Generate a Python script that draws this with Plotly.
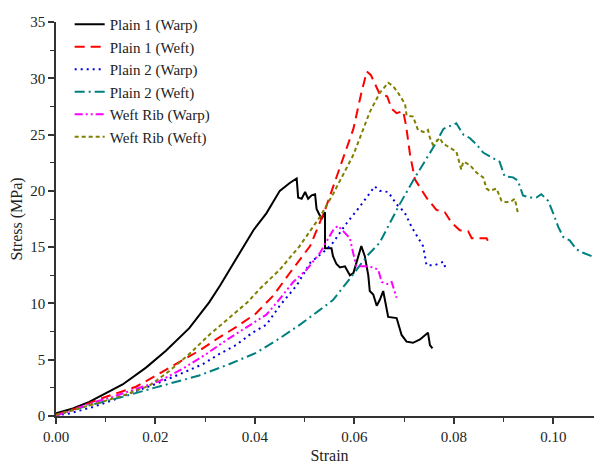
import plotly.graph_objects as go

# ---- data ----
plain1_warp_x = [0, 0.0034, 0.0067, 0.0101, 0.0134, 0.0181, 0.0221, 0.0268, 0.0308, 0.0330, 0.0370, 0.0397, 0.0423, 0.0450, 0.0470, 0.0484, 0.0487, 0.0494, 0.0501, 0.0507, 0.0514, 0.0521, 0.0524, 0.0534, 0.0541, 0.0541, 0.0554, 0.0557, 0.0564, 0.0571, 0.0581, 0.0591, 0.0598, 0.0608, 0.0614, 0.0621, 0.0628, 0.0631, 0.0638, 0.0645, 0.0651, 0.0658, 0.0663, 0.0668, 0.0685, 0.0691, 0.0695, 0.0705, 0.0718, 0.0732, 0.0748, 0.0752, 0.0757]
plain1_warp_y = [0.23, 0.67, 1.25, 2.0, 2.8, 4.3, 5.8, 7.8, 10.1, 11.6, 14.5, 16.5, 18.0, 20.0, 20.7, 21.1, 19.4, 19.3, 19.9, 19.3, 19.6, 19.7, 18.4, 17.5, 18.1, 14.9, 14.9, 14.2, 13.5, 13.2, 13.3, 12.5, 12.7, 14.2, 15.1, 14.2, 12.5, 11.1, 10.8, 9.8, 10.3, 11.1, 10.1, 8.8, 8.7, 7.9, 7.2, 6.6, 6.5, 6.8, 7.4, 6.3, 6.0]

plain1_weft_x = [0, 0.0040, 0.0087, 0.0121, 0.0161, 0.0201, 0.0241, 0.0288, 0.0322, 0.0362, 0.0402, 0.0437, 0.0470, 0.0511, 0.0541, 0.0574, 0.0598, 0.0614, 0.0625, 0.0633, 0.0651, 0.0666, 0.0675, 0.0685, 0.0698, 0.0704, 0.0712, 0.0722, 0.0745, 0.0765, 0.0782, 0.0795, 0.0812, 0.0829, 0.0836, 0.0856, 0.0866, 0.0872]
plain1_weft_y = [0.1, 0.67, 1.5, 2.0, 2.6, 3.6, 4.6, 5.8, 6.8, 7.9, 9.1, 10.7, 12.7, 15.1, 18.3, 22.4, 25.5, 28.7, 30.6, 30.3, 28.6, 28.4, 27.3, 26.9, 27.1, 25.8, 23.2, 21.0, 19.4, 18.3, 18.1, 17.2, 16.5, 16.4, 15.8, 15.8, 15.8, 15.2]

plain2_warp_x = [0, 0.0027, 0.0074, 0.0114, 0.0154, 0.0201, 0.0248, 0.0295, 0.0328, 0.0362, 0.0395, 0.0423, 0.0450, 0.0484, 0.0511, 0.0544, 0.0557, 0.0584, 0.0611, 0.0641, 0.0651, 0.0668, 0.0685, 0.0701, 0.0715, 0.0728, 0.0738, 0.0742, 0.0745, 0.0762, 0.0779, 0.0785]
plain2_warp_y = [0.05, 0.23, 0.8, 1.4, 2.1, 2.85, 3.7, 4.6, 5.5, 6.3, 7.4, 8.1, 9.8, 11.6, 13.6, 14.8, 15.4, 17.1, 18.6, 20.4, 20.0, 19.9, 18.8, 18.1, 16.8, 15.8, 15.1, 14.2, 13.4, 13.4, 13.7, 12.9]

plain2_weft_x = [0, 0.0013, 0.0054, 0.0094, 0.0134, 0.0181, 0.0228, 0.0288, 0.0348, 0.0402, 0.0450, 0.0490, 0.0530, 0.0557, 0.0598, 0.0625, 0.0651, 0.0671, 0.0691, 0.0718, 0.0738, 0.0762, 0.0779, 0.0802, 0.0805, 0.0819, 0.0832, 0.0846, 0.0859, 0.0879, 0.0892, 0.0902, 0.0919, 0.0929, 0.0939, 0.0953, 0.0966, 0.0976, 0.0990, 0.1000, 0.1010, 0.1020, 0.1033, 0.1047, 0.1060, 0.1077]
plain2_weft_y = [0.05, 0.23, 0.8, 1.25, 1.7, 2.3, 2.85, 3.6, 4.6, 5.6, 6.9, 8.1, 9.4, 10.3, 12.6, 14.2, 15.4, 17.1, 18.8, 20.9, 22.3, 24.1, 25.5, 26.0, 26.0, 25.0, 24.7, 24.1, 23.4, 22.9, 22.6, 21.3, 21.2, 20.9, 19.6, 19.4, 19.4, 19.7, 19.1, 18.0, 16.8, 15.9, 15.6, 14.8, 14.5, 14.2]

rib_warp_x = [0, 0.0027, 0.0067, 0.0114, 0.0161, 0.0208, 0.0255, 0.0302, 0.0348, 0.0395, 0.0423, 0.0450, 0.0477, 0.0504, 0.0531, 0.0557, 0.0567, 0.0578, 0.0591, 0.0598, 0.0604, 0.0621, 0.0638, 0.0648, 0.0655, 0.0668, 0.0675, 0.0685]
rib_warp_y = [0.05, 0.4, 1.1, 1.7, 2.4, 3.1, 4.2, 5.5, 6.9, 8.2, 9.0, 10.4, 11.9, 13.0, 14.5, 16.5, 16.9, 16.4, 15.8, 14.4, 13.3, 13.3, 13.2, 13.0, 11.9, 11.7, 11.9, 10.5]

rib_weft_x = [0, 0.0034, 0.0080, 0.0134, 0.0188, 0.0228, 0.0268, 0.0308, 0.0348, 0.0385, 0.0410, 0.0450, 0.0490, 0.0531, 0.0557, 0.0598, 0.0631, 0.0651, 0.0668, 0.0678, 0.0688, 0.0702, 0.0705, 0.0718, 0.0728, 0.0742, 0.0748, 0.0752, 0.0758, 0.0772, 0.0778, 0.0792, 0.0805, 0.0815, 0.0819, 0.0832, 0.0846, 0.0859, 0.0866, 0.0872, 0.0886, 0.0896, 0.0906, 0.0916, 0.0923, 0.0926, 0.0929]
rib_weft_y = [0.1, 0.5, 1.1, 1.8, 2.7, 4.0, 5.5, 7.2, 8.7, 10.1, 11.3, 13.0, 15.1, 17.7, 19.7, 23.2, 27.0, 28.7, 29.6, 29.3, 28.7, 27.7, 26.7, 26.6, 25.4, 25.2, 25.4, 24.7, 24.1, 24.7, 24.2, 23.8, 23.5, 21.9, 22.6, 22.3, 21.6, 21.2, 20.2, 20.0, 20.2, 19.1, 19.0, 19.1, 19.3, 18.6, 18.0]

series_names = ["Plain 1 (Warp)", "Plain 1 (Weft)", "Plain 2 (Warp)", "Plain 2 (Weft)", "Weft Rib (Warp)", "Weft Rib (Weft)"]
x_tick_vals = [0, 0.02, 0.04, 0.06, 0.08, 0.10]
x_tick_text = ["0.00", "0.02", "0.04", "0.06", "0.08", "0.10"]
y_tick_vals = [0, 5, 10, 15, 20, 25, 30, 35]

# ---- styles ----
series = [
    (plain1_warp_x, plain1_warp_y, "#000000", "solid"),
    (plain1_weft_x, plain1_weft_y, "#ff0000", "10px,6px"),
    (plain2_warp_x, plain2_warp_y, "#0000dd", "2px,4px"),
    (plain2_weft_x, plain2_weft_y, "#008080", "10px,4px,2px,4px"),
    (rib_warp_x, rib_warp_y, "#ff00ff", "8px,3px,2px,3px,2px,3px"),
    (rib_weft_x, rib_weft_y, "#808000", "4px,3px"),
]

FONT = "Times New Roman, Liberation Serif, DejaVu Serif, serif"

fig = go.Figure()
for name, (xs, ys, col, dash) in zip(series_names, series):
    fig.add_trace(go.Scatter(x=xs, y=ys, mode="lines", name=name,
                             line=dict(color=col, width=2, dash=dash)))

fig.update_layout(
    width=595, height=467,
    margin=dict(l=48, r=0, t=7, b=59),
    paper_bgcolor="white", plot_bgcolor="white",
    font=dict(family=FONT, size=15, color="#222"),
    legend=dict(x=0.025, y=1.036, xanchor="left", yanchor="top",
                bgcolor="rgba(0,0,0,0)", font=dict(size=15, family=FONT, color="#222"),
                tracegroupgap=0),
    showlegend=True,
)
fig.update_xaxes(range=[0, 0.11], tickvals=x_tick_vals, ticktext=x_tick_text,
                 showline=True, linecolor="#333", linewidth=1.5, mirror=False,
                 ticks="outside", ticklen=6, tickwidth=1.5, tickcolor="#333",
                 tickfont=dict(family=FONT, size=15),
                 minor=dict(ticks="outside", ticklen=4, dtick=0.01, tick0=0, tickcolor="#333", tickwidth=1.2),
                 showgrid=False, zeroline=False,
                 title=dict(text="Strain", font=dict(size=16, family=FONT), standoff=6))
fig.update_yaxes(range=[0, 35], tickvals=y_tick_vals,
                 showline=True, linecolor="#333", linewidth=1.5, mirror=False,
                 ticks="outside", ticklen=6, tickwidth=1.5, tickcolor="#333",
                 tickfont=dict(family=FONT, size=15),
                 minor=dict(ticks="outside", ticklen=4, dtick=2.5, tick0=0, tickcolor="#333", tickwidth=1.2),
                 showgrid=False, zeroline=False,
                 title=dict(text="Stress (MPa)", font=dict(size=16, family=FONT), standoff=4))

fig.write_html("out.html")
